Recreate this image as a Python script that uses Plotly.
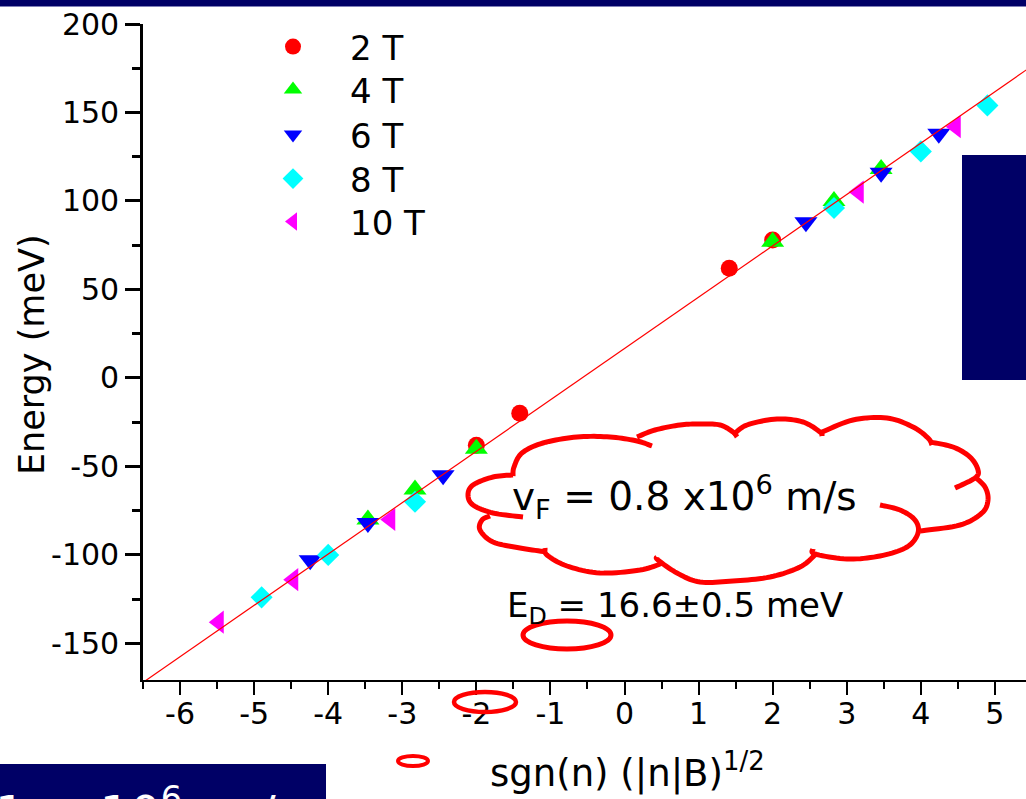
import numpy as np
import plotly.graph_objects as go

# ---- figure geometry (pixels) ----
W, H = 1026, 799
ML, MR, MT, MB = 143, 0, 24, 119
PW, PH = W - ML - MR, H - MT - MB

FONT = "DejaVu Sans"
NAVY = "#000066"
RED = "#FF0000"

# ---- Landau level energies vs sgn(n)*sqrt(|n|B) ----
x_2T = [-2.0, -1.414, 1.414, 2.0]
e_2T = [-38, -20, 62, 78]
x_4T = [-3.464, -2.828, -2.0, 2.0, 2.828, 3.464]
e_4T = [-80, -63, -40, 77, 100, 118]
x_6T = [-4.243, -3.464, -2.449, 2.449, 3.464, 4.243]
e_6T = [-103, -82, -55, 88, 116, 138]
x_8T = [-4.899, -4.0, -2.828, 2.828, 4.0, 4.899]
e_8T = [-124, -100, -70, 96, 128, 154]
x_10T = [-5.477, -4.472, -3.162, 3.162, 4.472, 5.477]
e_10T = [-138, -114, -80, 105, 142, 174]

series_names = ["2 T", "4 T", "6 T", "8 T", "10 T"]
series_colors = ["#FF0000", "#00FF00", "#0000FF", "#00FFFF", "#FF00FF"]
series_symbols = ["circle", "triangle-up", "triangle-down", "diamond", "triangle-left"]
series_sizes = [17, 20, 20, 17, 20]

# ---- linear fit: E = E_D + v_F * sqrt(2 e hbar |n| B) ----
E_D = 16.6          # meV
v_F = 0.8e6         # m/s
hbar = 1.054571817e-34
q_e = 1.602176634e-19
slope = v_F * np.sqrt(2 * hbar * q_e) / q_e * 1e3   # meV per sqrt(T)
fit_x = [-6.6, 5.6]

# ---- axes ----
x_range = [-6.5, 5.42]
y_range = [-170.7, 200]
x_tickvals = [-6, -5, -4, -3, -2, -1, 0, 1, 2, 3, 4, 5]
x_ticktext = ["-6", "-5", "-4", "-3", "-2", "-1", "0", "1", "2", "3", "4", "5"]
y_tickvals = [-150, -100, -50, 0, 50, 100, 150, 200]
y_ticktext = ["-150", "-100", "-50", "0", "50", "100", "150", "200"]


def px(x):
    return (x - ML) / PW


def py(y):
    return (H - MB - y) / PH


def smooth(points, n=10):
    pts = np.array(points, float)
    P = np.vstack([pts[0], pts, pts[-1]])
    out = []
    for i in range(1, len(P) - 2):
        p0, p1, p2, p3 = P[i - 1], P[i], P[i + 1], P[i + 2]
        for t in np.linspace(0, 1, n, endpoint=False):
            t2, t3 = t * t, t * t * t
            out.append(0.5 * (2 * p1 + (-p0 + p2) * t
                              + (2 * p0 - 5 * p1 + 4 * p2 - p3) * t2
                              + (-p0 + 3 * p1 - 3 * p2 + p3) * t3))
    out.append(pts[-1])
    return out


def path_from(points):
    s = smooth(points)
    return "M" + " L".join(f"{px(a):.5f},{py(b):.5f}" for a, b in s)


# cloud callout lobes (pixel outline points)
cloud_lobes = [
    [(513, 475), (493, 477), (473, 485), (468, 495), (473, 505), (493, 513), (523, 517)],
    [(513, 476), (514, 467), (522, 453), (543, 443), (577, 437), (610, 437), (637, 441), (652, 446)],
    [(637, 437), (655, 430), (680, 425), (700, 424), (720, 425), (733, 432), (737, 437)],
    [(733, 435), (747, 425), (777, 419), (803, 422), (820, 432), (822, 436)],
    [(820, 433), (853, 420), (887, 418), (913, 427), (928, 438), (932, 445)],
    [(930, 442), (953, 447), (970, 457), (978, 470), (975, 478), (955, 488)],
    [(975, 477), (985, 487), (988, 500), (982, 513), (960, 525), (920, 531)],
    [(880, 505), (900, 510), (915, 520), (918, 533), (907, 547), (880, 556), (847, 559), (815, 554), (813, 549)],
    [(815, 555), (800, 567), (770, 577), (733, 581), (700, 582), (677, 573), (658, 560), (657, 557)],
    [(663, 563), (640, 570), (600, 573), (567, 566), (547, 555), (545, 548)],
    [(547, 552), (520, 548), (493, 542), (480, 530), (482, 520), (490, 516)],
]

# legend row centres (pixels)
legend_rows = [47, 90, 135, 179, 222]

fig = go.Figure()

xs = [x_2T, x_4T, x_6T, x_8T, x_10T]
es = [e_2T, e_4T, e_6T, e_8T, e_10T]
legend_ids = ["legend", "legend2", "legend3", "legend4", "legend5"]
for name, xv, ev, col, sym, sz, lg in zip(series_names, xs, es, series_colors,
                                          series_symbols, series_sizes, legend_ids):
    fig.add_trace(go.Scatter(
        x=xv, y=ev, mode="markers", name=name, legend=lg,
        marker=dict(symbol=sym, size=sz, color=col, line=dict(width=0)),
        cliponaxis=False,
    ))

fig.add_trace(go.Scatter(
    x=fit_x, y=[E_D + slope * v for v in fit_x], mode="lines",
    line=dict(color=RED, width=1.2), showlegend=False, hoverinfo="skip",
))

shapes = []
# slide decorations
shapes.append(dict(type="rect", xref="paper", yref="paper", layer="above",
                   x0=px(-5), x1=px(W + 5), y0=py(-5), y1=py(6),
                   fillcolor=NAVY, line=dict(width=0)))
shapes.append(dict(type="line", xref="paper", yref="paper", layer="above",
                   x0=px(-5), x1=px(W + 5), y0=py(6.5), y1=py(6.5),
                   line=dict(color="#8080B8", width=1)))
shapes.append(dict(type="rect", xref="paper", yref="paper", layer="above",
                   x0=px(962), x1=px(W + 5), y0=py(380), y1=py(155),
                   fillcolor=NAVY, line=dict(width=0)))
shapes.append(dict(type="rect", xref="paper", yref="paper", layer="above",
                   x0=px(-5), x1=px(326), y0=py(H + 5), y1=py(764),
                   fillcolor=NAVY, line=dict(width=0)))
# cloud outline
for lobe in cloud_lobes:
    shapes.append(dict(type="path", xref="paper", yref="paper", layer="above",
                       path=path_from(lobe), line=dict(color=RED, width=5)))
# hand-drawn ellipses
for (cx, cy, rx, ry, lw) in [(567, 635, 44, 14, 5), (485, 702, 31, 10, 4.5), (413, 761, 15, 5, 4)]:
    shapes.append(dict(type="circle", xref="paper", yref="paper", layer="above",
                       x0=px(cx - rx), x1=px(cx + rx), y0=py(cy + ry), y1=py(cy - ry),
                       line=dict(color=RED, width=lw)))


def note(text, x, y, size, color="black", xanchor="left", yanchor="middle", angle=0):
    return dict(text=text, x=px(x), y=py(y), xref="paper", yref="paper",
                xanchor=xanchor, yanchor=yanchor, textangle=angle, showarrow=False,
                font=dict(family=FONT, size=size, color=color))


annotations = [
    note("Energy (meV)", 32, 355, 35, xanchor="center", angle=-90),
    note("sgn(n) (|n|B)<sup>1/2</sup>", 488, 770, 37),
    note("v<sub>F</sub> = 0.8 x10<sup>6</sup> m/s", 510, 497, 39),
    note("E<sub>D</sub> = 16.6±0.5 meV", 505, 607, 34),
    note("1\u00a0\u00a0x\u00a010<sup>6</sup>\u00a0\u00a0m/s", -7, 777, 48,
         color="white", yanchor="top"),
]

legends = {}
for lg, row in zip(legend_ids, legend_rows):
    legends[lg] = dict(x=px(236), y=py(row), xanchor="left", yanchor="middle",
                       font=dict(family=FONT, size=34, color="black"),
                       itemwidth=104, bgcolor="rgba(0,0,0,0)", borderwidth=0)

fig.update_layout(
    width=W, height=H, autosize=False,
    margin=dict(l=ML, r=MR, t=MT, b=MB, pad=0),
    paper_bgcolor="white", plot_bgcolor="white",
    font=dict(family=FONT, color="black"),
    shapes=shapes, annotations=annotations,
    xaxis=dict(range=x_range, tickmode="array", tickvals=x_tickvals, ticktext=x_ticktext,
               showgrid=False, zeroline=False, showline=True, linecolor="black", linewidth=2.3,
               ticks="outside", ticklen=13, tickwidth=2.3, tickcolor="black",
               ticklabelstandoff=-7,
               tickfont=dict(family=FONT, size=30, color="black"),
               minor=dict(tickmode="linear", tick0=0, dtick=0.5, ticks="outside",
                          ticklen=6.5, tickwidth=2.3, tickcolor="black")),
    yaxis=dict(range=y_range, tickmode="array", tickvals=y_tickvals, ticktext=y_ticktext,
               showgrid=False, zeroline=False, showline=True, linecolor="black", linewidth=2.6,
               ticks="outside", ticklen=15, tickwidth=2.6, tickcolor="black",
               tickfont=dict(family=FONT, size=30, color="black"),
               minor=dict(tickmode="linear", tick0=0, dtick=25, ticks="outside",
                          ticklen=8, tickwidth=2.6, tickcolor="black")),
    **legends,
)

fig.write_html("out.html")
